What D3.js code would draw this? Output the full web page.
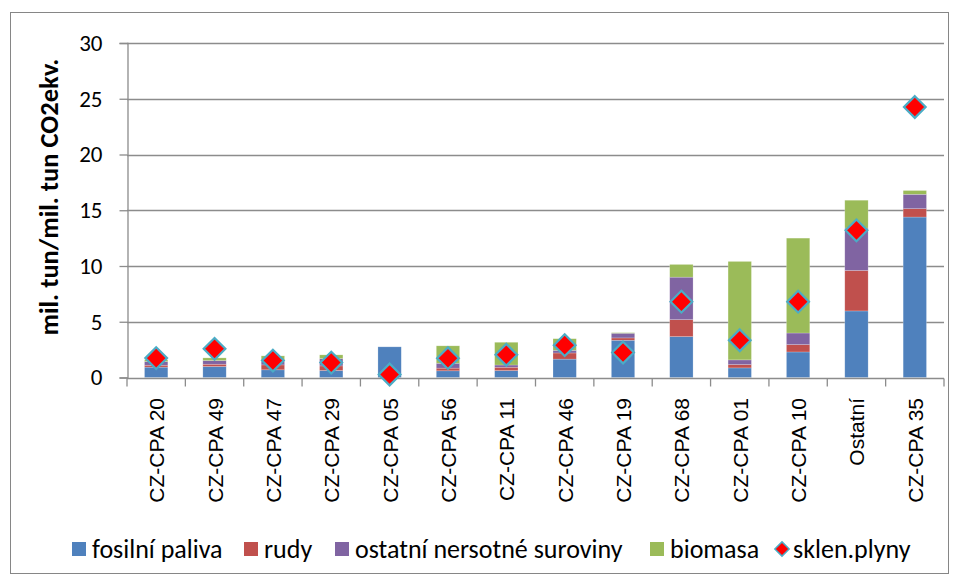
<!DOCTYPE html>
<html>
<head>
<meta charset="utf-8">
<script src="https://cdn.jsdelivr.net/npm/d3@7"></script>
<style>
  body { margin: 0; background: #fff; }
  svg { display: block; font-family: Carlito, Lato, "Liberation Sans", sans-serif; }
</style>
</head>
<body>
<div id="chart"></div>
<script>
const categories = ["CZ-CPA 20", "CZ-CPA 49", "CZ-CPA 47", "CZ-CPA 29", "CZ-CPA 05", "CZ-CPA 56", "CZ-CPA 11",
  "CZ-CPA 46", "CZ-CPA 19", "CZ-CPA 68", "CZ-CPA 01", "CZ-CPA 10", "Ostatní", "CZ-CPA 35"];

// stacked parts
const fosilni = [0.93, 0.99, 0.69, 0.63, 2.75, 0.60, 0.62, 1.65, 3.34, 3.67, 0.86, 2.29, 5.97, 14.39];
const rudy = [0.17, 0.20, 0.44, 0.41, 0.00, 0.24, 0.30, 0.55, 0.21, 1.52, 0.30, 0.66, 3.63, 0.75];
const ostatni = [0.33, 0.33, 0.30, 0.66, 0.00, 0.44, 0.20, 0.24, 0.42, 3.81, 0.42, 1.04, 3.80, 1.29];
const biomasa = [0.17, 0.24, 0.51, 0.33, 0.00, 1.56, 2.04, 1.04, 0.05, 1.14, 8.83, 8.51, 2.50, 0.34];
// line markers
const sklen = [1.74, 2.57, 1.52, 1.34, 0.27, 1.73, 2.04, 2.90, 2.24, 6.80, 3.34, 6.80, 13.20, 24.26];

const seriesNames = ["fosilní paliva", "rudy", "ostatní nersotné suroviny", "biomasa"];
const seriesColors = ["#4f81bd", "#c0504d", "#8064a2", "#9bbb59"];
const yTicks = [0, 5, 10, 15, 20, 25, 30];

const width = 957, height = 579;
const margin = { left: 127, right: 13, top: 43, bottom: 201 };

const svg = d3.select("#chart").append("svg")
  .attr("width", width)
  .attr("height", height);

// outer frame
svg.append("rect")
  .attr("x", 10.5).attr("y", 12.5)
  .attr("width", 938).attr("height", 561)
  .attr("fill", "none")
  .attr("stroke", "#868686");

const x = d3.scaleBand()
  .domain(categories)
  .range([margin.left, width - margin.right])
  .paddingInner(0.6)
  .paddingOuter(0.3);

const y = d3.scaleLinear()
  .domain([0, 30])
  .range([height - margin.bottom - 0.5, margin.top]);

// gridlines
svg.append("g")
  .selectAll("line")
  .data(yTicks.filter(d => d > 0))
  .enter().append("line")
  .attr("x1", margin.left)
  .attr("x2", width - margin.right)
  .attr("y1", d => Math.round(y(d)) + 0.5)
  .attr("y2", d => Math.round(y(d)) + 0.5)
  .attr("stroke", "#8c8c8c")
  .attr("stroke-width", 1.3);

// stacked bars
const rows = categories.map((c, i) => ({
  cat: c, s0: fosilni[i], s1: rudy[i], s2: ostatni[i], s3: biomasa[i]
}));
const stack = d3.stack().keys(["s0", "s1", "s2", "s3"]);
const layers = stack(rows);

svg.append("g")
  .selectAll("g")
  .data(layers)
  .enter().append("g")
  .attr("fill", (d, i) => seriesColors[i])
  .selectAll("rect")
  .data(d => d)
  .enter().append("rect")
  .attr("x", d => x(d.data.cat))
  .attr("width", x.bandwidth())
  .attr("y", d => y(d[1]))
  .attr("height", d => Math.max(0, y(d[0]) - y(d[1])))
  .attr("stroke", "rgba(255,255,255,0.35)")
  .attr("stroke-width", 0.6);

// y axis
const yAxis = d3.axisLeft(y).tickValues(yTicks).tickSize(8).tickPadding(17);
const gy = svg.append("g")
  .attr("transform", `translate(${margin.left + 0.5},0)`)
  .call(yAxis);
gy.select(".domain").attr("stroke", "#8c8c8c").attr("stroke-width", 1.3);
gy.selectAll(".tick line").attr("stroke", "#8c8c8c").attr("stroke-width", 1.3);
gy.selectAll(".tick text")
  .attr("font-family", "Carlito, Lato, sans-serif")
  .attr("font-size", 23)
  .attr("fill", "#000");

// x axis line and ticks at category boundaries
const baseY = Math.round(y(0)) + 0.5;
svg.append("line")
  .attr("x1", margin.left).attr("x2", width - margin.right)
  .attr("y1", baseY).attr("y2", baseY)
  .attr("stroke", "#8c8c8c").attr("stroke-width", 1.3);

const step = x.step();
const bounds = d3.range(categories.length + 1).map(i => margin.left + i * step);
svg.append("g")
  .selectAll("line")
  .data(bounds)
  .enter().append("line")
  .attr("x1", d => d).attr("x2", d => d)
  .attr("y1", baseY).attr("y2", baseY + 8)
  .attr("stroke", "#8c8c8c").attr("stroke-width", 1.3);

// category labels
svg.append("g")
  .selectAll("text")
  .data(categories)
  .enter().append("text")
  .attr("transform", d => `translate(${x(d) + x.bandwidth() / 2 + 8},398) rotate(-90)`)
  .attr("text-anchor", "end")
  .attr("font-family", "'Liberation Sans', Arial, sans-serif")
  .attr("font-size", 21)
  .text(d => d);

// markers
const diamond = d3.symbol().type(d3.symbolDiamond2).size(300);
svg.append("g")
  .selectAll("path")
  .data(sklen)
  .enter().append("path")
  .attr("d", diamond)
  .attr("transform", (d, i) => `translate(${x(categories[i]) + x.bandwidth() / 2},${y(d)})`)
  .attr("fill", "#ff0000")
  .attr("stroke", "#4bacc6")
  .attr("stroke-width", 2.2);

// y title
svg.append("text")
  .attr("transform", "translate(58,197) rotate(-90)")
  .attr("text-anchor", "middle")
  .attr("font-weight", "bold")
  .attr("font-size", 26.5)
  .text("mil. tun/mil. tun CO2ekv.");

// legend
const legendItems = [
  { name: seriesNames[0], color: seriesColors[0], x: 72 },
  { name: seriesNames[1], color: seriesColors[1], x: 244 },
  { name: seriesNames[2], color: seriesColors[2], x: 335 },
  { name: seriesNames[3], color: seriesColors[3], x: 650 },
  { name: "sklen.plyny", color: null, x: 773 }
];
const lg = svg.append("g")
  .selectAll("g")
  .data(legendItems)
  .enter().append("g")
  .attr("transform", d => `translate(${d.x},549)`);

lg.filter(d => d.color)
  .append("rect")
  .attr("x", 0).attr("y", -7)
  .attr("width", 14).attr("height", 14)
  .attr("fill", d => d.color);

lg.filter(d => !d.color)
  .append("path")
  .attr("d", d3.symbol().type(d3.symbolDiamond2).size(130))
  .attr("transform", "translate(9,0)")
  .attr("fill", "#ff0000")
  .attr("stroke", "#4bacc6")
  .attr("stroke-width", 1.5);

lg.append("text")
  .attr("x", 20)
  .attr("y", 0)
  .attr("dy", "0.35em")
  .attr("font-size", 26)
  .text(d => d.name);
</script>
</body>
</html>
